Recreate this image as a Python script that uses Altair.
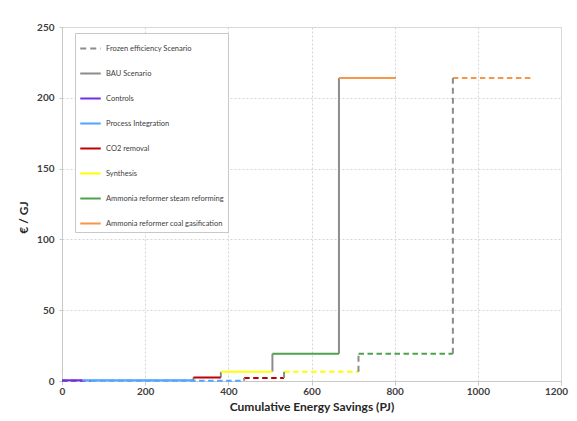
import altair as alt
import pandas as pd

categories = ["Controls", "Process Integration", "CO2 removal", "Synthesis",
              "Ammonia reformer steam reforming", "Ammonia reformer coal gasification"]
bau_start = [0, 49, 316, 382, 506, 666]
bau_end = [49, 316, 382, 506, 666, 803]
bau_cost = [0.5, 0.5, 2.5, 6.5, 19.2, 214]
frozen_start = [0, 70, 438, 534, 713, 940]
frozen_end = [70, 438, 534, 713, 940, 1127]
frozen_cost = [0.2, 0.2, 2.2, 6.5, 19.2, 214]

series_names = ["Frozen efficiency Scenario", "BAU Scenario"] + categories
series_colors = ["#8c8c8c", "#8c8c8c", "#7030E0", "#4DA6FF", "#C00000", "#FFFF00", "#4EA24E", "#F79646"]
series_dash = [[6, 4], [1, 0], [1, 0], [1, 0], [1, 0], [1, 0], [1, 0], [1, 0]]

x_ticks = [0, 200, 400, 600, 800, 1000, 1200]
y_ticks = [0, 50, 100, 150, 200, 250]

bau_seg = pd.DataFrame({"x0": bau_start, "x1": bau_end, "cost": bau_cost, "series": categories})
fro_seg = pd.DataFrame({"x0": frozen_start, "x1": frozen_end, "cost": frozen_cost, "series": categories})


def verticals(starts, costs, name):
    return pd.DataFrame({
        "x0": starts[1:],
        "y0": costs[:-1],
        "y1": costs[1:],
        "series": [name] * (len(starts) - 1),
    })


bau_vert = verticals(bau_start, bau_cost, "BAU Scenario")
fro_vert = verticals(frozen_start, frozen_cost, "Frozen efficiency Scenario")

x_scale = alt.Scale(domain=[0, 1200], nice=False)
y_scale = alt.Scale(domain=[0, 250], nice=False)
x_axis = alt.Axis(values=x_ticks, title="Cumulative Energy Savings (PJ)", format="d",
                  labelFlush=False,
                  labelOffset=alt.expr("datum.value == 1200 ? -5 : 0"),
                  titleY=29, titleBaseline="alphabetic")
y_axis = alt.Axis(values=y_ticks, title="€ / GJ", titleX=-32, titleY=190)

legend_props = dict(
    title=None, orient="none", legendX=13, legendY=6,
    symbolType="stroke", symbolSize=420, symbolStrokeWidth=2,
    labelFontSize=7.5, labelColor="#404040", labelFont="Lato",
    labelOffset=4, rowPadding=9, padding=4,
    fillColor="white", strokeColor="#c8c8c8",
)

color_enc = alt.Color(
    "series:N",
    scale=alt.Scale(domain=series_names, range=series_colors),
    legend=alt.Legend(**legend_props),
)
dash_enc = alt.StrokeDash(
    "series:N",
    scale=alt.Scale(domain=series_names, range=series_dash),
    legend=alt.Legend(**legend_props),
)

fro_seg_layer = alt.Chart(fro_seg).mark_rule(strokeWidth=2, strokeDash=[5.5, 3.5]).encode(
    x=alt.X("x0:Q", scale=x_scale, axis=x_axis),
    x2="x1:Q",
    y=alt.Y("cost:Q", scale=y_scale, axis=y_axis),
    color=color_enc,
)
fro_vert_layer = alt.Chart(fro_vert).mark_rule(strokeWidth=2).encode(
    x=alt.X("x0:Q", scale=x_scale, axis=x_axis),
    y=alt.Y("y0:Q", scale=y_scale, axis=y_axis),
    y2="y1:Q",
    color=color_enc,
    strokeDash=dash_enc,
)
bau_vert_layer = alt.Chart(bau_vert).mark_rule(strokeWidth=2).encode(
    x=alt.X("x0:Q", scale=x_scale, axis=x_axis),
    y=alt.Y("y0:Q", scale=y_scale, axis=y_axis),
    y2="y1:Q",
    color=color_enc,
    strokeDash=dash_enc,
)
bau_seg_layer = alt.Chart(bau_seg).mark_rule(strokeWidth=2).encode(
    x=alt.X("x0:Q", scale=x_scale, axis=x_axis),
    x2="x1:Q",
    y=alt.Y("cost:Q", scale=y_scale, axis=y_axis),
    color=color_enc,
    strokeDash=dash_enc,
)

chart = alt.layer(fro_seg_layer, fro_vert_layer, bau_vert_layer, bau_seg_layer).properties(
    width=499, height=354,
    autosize=alt.AutoSizeParams(type="none"),
    padding={"left": 54, "top": 19, "right": 8, "bottom": 32},
).configure_view(stroke=None).configure(font="Lato").configure_axis(
    gridDash=[2, 2], gridColor="#d4d4d4", domainColor="#c8c8c8", tickColor="#c8c8c8",
    labelFontWeight="bold", labelFontSize=10, labelColor="#404040",
    titleFontWeight="bold", titleFontSize=12, titleColor="#262626",
).configure_axisX(
    tickSize=4, labelPadding=1,
).configure_axisY(
    tickSize=3, labelPadding=5,
)

chart.save("out.html", embed_options={"renderer": "svg", "actions": False})
